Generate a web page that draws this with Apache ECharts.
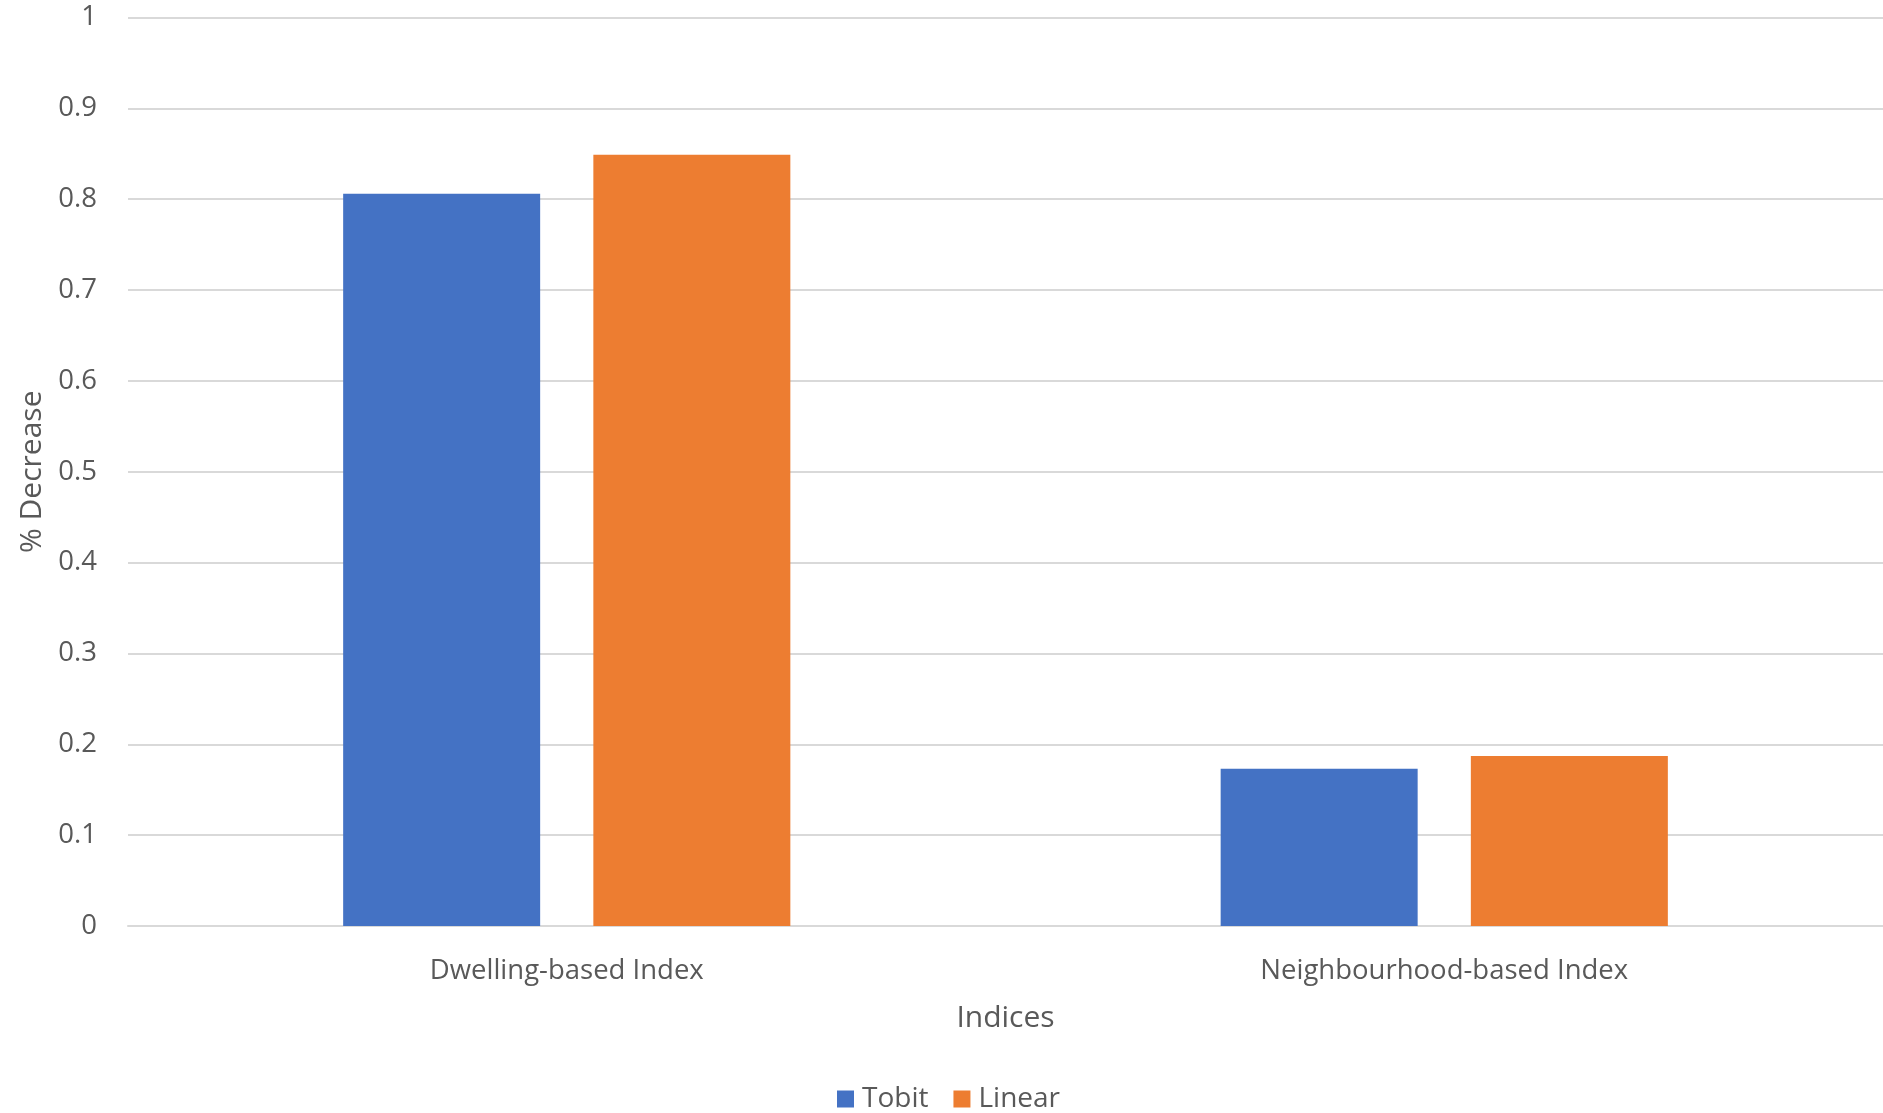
<!DOCTYPE html>
<html>
<head>
<meta charset="utf-8">
<script src="https://cdn.jsdelivr.net/npm/echarts@6/dist/echarts.min.js"></script>
<style>
  html, body { margin: 0; padding: 0; background: #fff; }
  #chart { width: 1883px; height: 1113px; }
</style>
</head>
<body>
<div id="chart"></div>
<script>
// Percentage decrease by index type and model
const categories = ['Dwelling-based Index', 'Neighbourhood-based Index'];
const tobit = [0.806, 0.173];
const linear = [0.849, 0.187];
const seriesNames = ['Tobit', 'Linear'];

const textColor = '#595959';
const gridColor = '#d9d9d9';
const font = 'Open Sans';

const chart = echarts.init(document.getElementById('chart'));
chart.setOption({
  animation: false,
  textStyle: { fontFamily: font, color: textColor },
  grid: { left: 128, right: 0, top: 17.5, bottom: 187 },
  legend: {
    data: seriesNames,
    top: 1080,
    left: 832,
    itemWidth: 17,
    itemHeight: 17,
    itemGap: 25,
    icon: 'rect',
    textStyle: { fontFamily: font, fontSize: 28, color: textColor, padding: [0, 0, 0, 3] }
  },
  xAxis: {
    type: 'category',
    data: categories,
    name: 'Indices',
    nameLocation: 'middle',
    nameGap: 77,
    nameTextStyle: { fontFamily: font, fontSize: 30, color: textColor },
    axisLine: { show: true, lineStyle: { color: gridColor, width: 2 } },
    axisTick: { show: false },
    axisLabel: { margin: 31, fontFamily: font, fontSize: 27.5, color: textColor }
  },
  yAxis: {
    type: 'value',
    min: 0,
    max: 1,
    interval: 0.1,
    name: '% Decrease',
    nameLocation: 'middle',
    nameRotate: 90,
    nameGap: 80,
    nameTextStyle: { fontFamily: font, fontSize: 30, color: textColor },
    axisLine: { show: false },
    axisTick: { show: false },
    axisLabel: {
      margin: 31,
      fontFamily: font,
      fontSize: 27.5,
      color: textColor,
      formatter: v => String(Math.round(v * 10) / 10)
    },
    splitLine: { lineStyle: { color: gridColor, width: 2 } }
  },
  series: [
    {
      name: 'Tobit',
      type: 'bar',
      data: tobit,
      barWidth: 197,
      barGap: '27%',
      itemStyle: { color: '#4472c4' }
    },
    {
      name: 'Linear',
      type: 'bar',
      data: linear,
      barWidth: 197,
      barGap: '27%',
      itemStyle: { color: '#ed7d31' }
    }
  ]
});
</script>
</body>
</html>
